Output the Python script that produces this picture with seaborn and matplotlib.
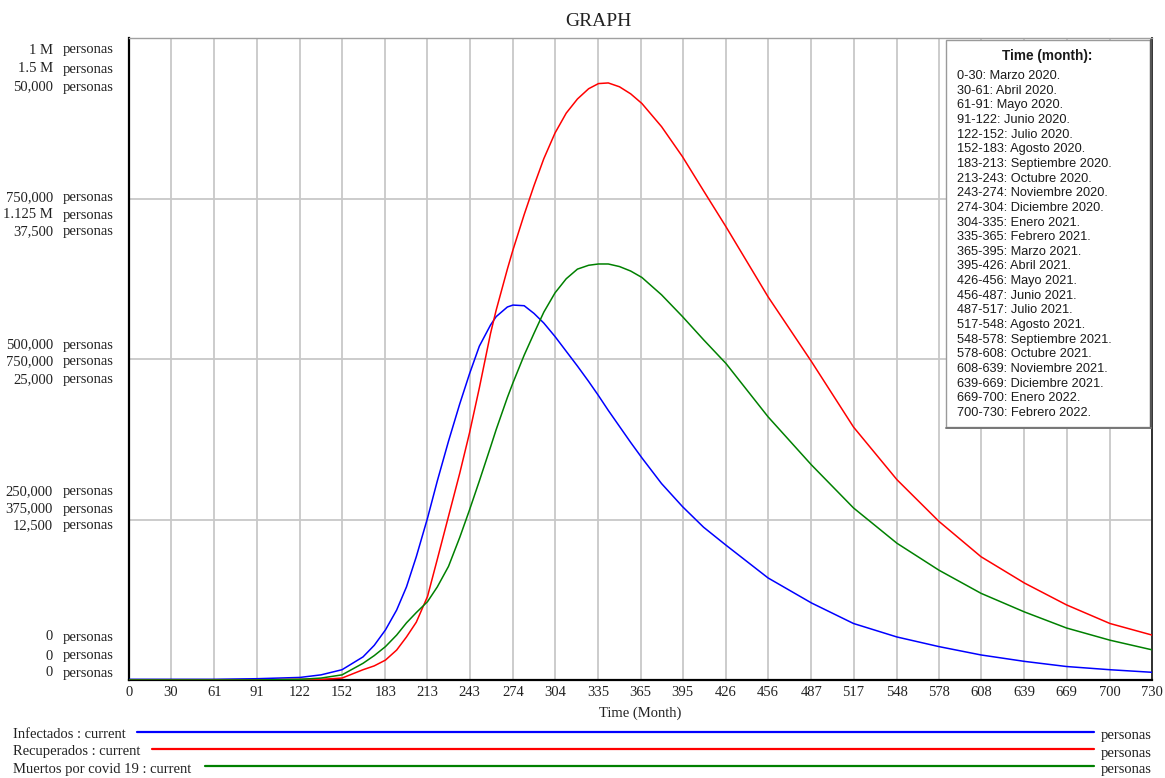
import matplotlib
matplotlib.use("Agg")
import matplotlib.pyplot as plt
import seaborn as sns
from matplotlib.lines import Line2D
from matplotlib.patches import Rectangle

# ---------------- data ----------------
time_days = [0, 30, 61, 91, 122, 137, 152, 167, 175, 183, 191, 198, 205, 213, 220, 228, 236,
             243, 250, 258, 262, 270, 274, 282, 289, 296, 304, 312, 320, 328, 335, 342, 350,
             358, 366, 380, 395, 410, 426, 456, 487, 517, 548, 578, 608, 639, 669, 700, 730]

infectados = [1000, 1000, 1000, 2000, 4000, 8000, 16000, 36000, 54000, 78000, 109000,
              145000, 192000, 252000, 310000, 372000, 430000, 477000, 520000, 553000,
              566000, 581000, 584000, 583000, 571000, 556000, 535000, 512000, 489000,
              465000, 443000, 420000, 395000, 370000, 346000, 306000, 270000, 238000,
              210000, 159000, 120000, 88000, 67000, 52000, 39000, 29000, 21000, 16000, 12000]

recuperados = [0, 0, 0, 0, 1500, 1500, 4500, 24000, 33000, 46500, 70000, 100500, 135000,
               195000, 282000, 382500, 483000, 577500, 682500, 810000, 864000, 960000,
               1005000, 1087500, 1155000, 1218000, 1278000, 1324500, 1357500, 1381500,
               1393500, 1395000, 1386000, 1369500, 1347000, 1293000, 1222500, 1143000,
               1059000, 895500, 744000, 591000, 468000, 370500, 288000, 226500, 175500,
               132000, 105000]

muertos = [0, 0, 0, 0, 50, 150, 400, 1300, 1900, 2600, 3500, 4450, 5250, 6100, 7250, 8850,
           11100, 13250, 15500, 18150, 19500, 22000, 23150, 25300, 27000, 28650, 30150,
           31250, 32000, 32300, 32400, 32400, 32200, 31850, 31350, 30000, 28300, 26500,
           24650, 20500, 16750, 13400, 10650, 8550, 6750, 5300, 4050, 3100, 2350]

x_ticks = [0, 30, 61, 91, 122, 152, 183, 213, 243, 274, 304, 335, 365, 395, 426, 456,
           487, 517, 548, 578, 608, 639, 669, 700, 730]

ticks_infectados = [0, 250000, 500000, 750000, 1000000]
ticks_recuperados = [0, 375000, 750000, 1125000, 1500000]
ticks_muertos = [0, 12500, 25000, 37500, 50000]

series_names = ["Infectados : current", "Recuperados : current", "Muertos por covid 19 : current"]
unit = "personas"

month_labels = [
    "0-30: Marzo 2020.", "30-61: Abril 2020.", "61-91: Mayo 2020.", "91-122: Junio 2020.",
    "122-152: Julio 2020.", "152-183: Agosto 2020.", "183-213: Septiembre 2020.",
    "213-243: Octubre 2020.", "243-274: Noviembre 2020.", "274-304: Diciembre 2020.",
    "304-335: Enero 2021.", "335-365: Febrero 2021.", "365-395: Marzo 2021.",
    "395-426: Abril 2021.", "426-456: Mayo 2021.", "456-487: Junio 2021.",
    "487-517: Julio 2021.", "517-548: Agosto 2021.", "548-578: Septiembre 2021.",
    "578-608: Octubre 2021.", "608-639: Noviembre 2021.", "639-669: Diciembre 2021.",
    "669-700: Enero 2022.", "700-730: Febrero 2022.",
]

# ---------------- style ----------------
sns.set_style("white")
plt.rcParams["font.family"] = ["Liberation Serif", "DejaVu Serif"]

W, H = 1165, 778
fig = plt.figure(figsize=(W / 100, H / 100), dpi=100)
L, R, T, B = 129, 1152, 38, 680
ax = fig.add_axes([L / W, 1 - B / H, (R - L) / W, (B - T) / H])
ax2 = ax.twinx()
ax3 = ax.twinx()

colors = ["#0000ff", "#ff0000", "#008000"]

sns.lineplot(x=time_days, y=infectados, ax=ax, color=colors[0], linewidth=1.1, zorder=3)
sns.lineplot(x=time_days, y=recuperados, ax=ax2, color=colors[1], linewidth=1.1, zorder=3)
sns.lineplot(x=time_days, y=muertos, ax=ax3, color=colors[2], linewidth=1.1, zorder=3)

ax.set_xlim(0, 730)
ax.set_ylim(0, ticks_infectados[-1])
ax2.set_ylim(0, ticks_recuperados[-1])
ax3.set_ylim(0, ticks_muertos[-1])

ax.set_xticks(x_ticks)
ax.set_xticklabels([str(v) for v in x_ticks], fontsize=10.5, color="#222222")
ax.set_yticks(ticks_infectados)
ax.set_yticklabels([])
ax.tick_params(length=0, pad=4)
ax.grid(True, color="#c8c8c8", linewidth=1.3)
ax.set_axisbelow(True)
ax.set_xlabel("")
ax.set_ylabel("")

for a in (ax2, ax3):
    a.set_yticks([])
    a.set_ylabel("")
    a.grid(False)
    for s in a.spines.values():
        s.set_visible(False)

ax.spines["left"].set_color("black")
ax.spines["left"].set_linewidth(1.6)
ax.spines["bottom"].set_color("black")
ax.spines["bottom"].set_linewidth(1.6)
ax.spines["top"].set_color("#a0a0a0")
ax.spines["top"].set_linewidth(1.0)
ax.spines["right"].set_color("#303030")
ax.spines["right"].set_linewidth(1.4)


def fmt(v):
    if v >= 1_000_000:
        return f"{v / 1e6:g} M"
    return f"{v:,.0f}"


# vertical pixel offsets (downwards) of the three stacked labels at each gridline
offsets = [(-43, -24, -7), (-27.5, -10.5, 6.5), (-14, 3, 21), (-0.5, 16.5, 33.5), (12, 31, 49)]
tick_sets = [ticks_infectados, ticks_recuperados, ticks_muertos]
for i in range(5):
    for k in range(3):
        off = offsets[i][k]
        ax.annotate(fmt(tick_sets[k][i]), xy=(0, i / 4), xycoords="axes fraction",
                    xytext=(-76, -off), textcoords="offset pixels", ha="right", va="center",
                    fontsize=10.5, color="#222222", annotation_clip=False)
        ax.annotate(unit, xy=(0, i / 4), xycoords="axes fraction",
                    xytext=(-66, -off), textcoords="offset pixels", ha="left", va="center",
                    fontsize=10.5, color="#222222", annotation_clip=False)


def fx(px):
    return px / W


def fy(py):
    return 1 - py / H


fig.text(fx(598), fy(22), "GRAPH", ha="center", va="center", fontsize=14, color="#222222")
fig.text(fx(640), fy(713), "Time (Month)", ha="center", va="center", fontsize=10.5, color="#222222")

# bottom legend
leg_y = [735, 752, 769]
line_y = [732, 749, 766]
line_x0 = [137, 152, 205]
for k in range(3):
    fig.text(fx(13), fy(leg_y[k]), series_names[k], ha="left", va="center",
             fontsize=10.5, color="#222222")
    fig.add_artist(Line2D([fx(line_x0[k]), fx(1094)], [fy(line_y[k]), fy(line_y[k])],
                          transform=fig.transFigure, color=colors[k], linewidth=1.6))
    fig.text(fx(1101), fy(leg_y[k] + 1), unit, ha="left", va="center",
             fontsize=10.5, color="#222222")

# time (month) box
bx0, by0, bx1, by1 = 946, 40, 1150, 427
fig.add_artist(Rectangle((fx(bx0), fy(by1)), fx(bx1 - bx0), (by1 - by0) / H,
                         transform=fig.transFigure, facecolor="white", edgecolor="#9a9a9a",
                         linewidth=1.0, zorder=10))
fig.add_artist(Line2D([fx(bx1 + 1), fx(bx1 + 1)], [fy(by0), fy(by1 + 1)],
                      transform=fig.transFigure, color="#555555", linewidth=1.6, zorder=11))
fig.add_artist(Line2D([fx(bx0), fx(bx1 + 1)], [fy(by1 + 1), fy(by1 + 1)],
                      transform=fig.transFigure, color="#777777", linewidth=1.4, zorder=11))
fig.text(fx(1047), fy(56), "Time (month):", ha="center", va="center", fontsize=9.8,
         fontweight="bold", family=["Liberation Sans", "DejaVu Sans"], color="#1a1a1a", zorder=12)
for j, lab in enumerate(month_labels):
    fig.text(fx(957), fy(76 + j * 14.65), lab, ha="left", va="center", fontsize=9.2,
             family=["Liberation Sans", "DejaVu Sans"], color="#1a1a1a", zorder=12)

fig.savefig("out.png", dpi=100)
